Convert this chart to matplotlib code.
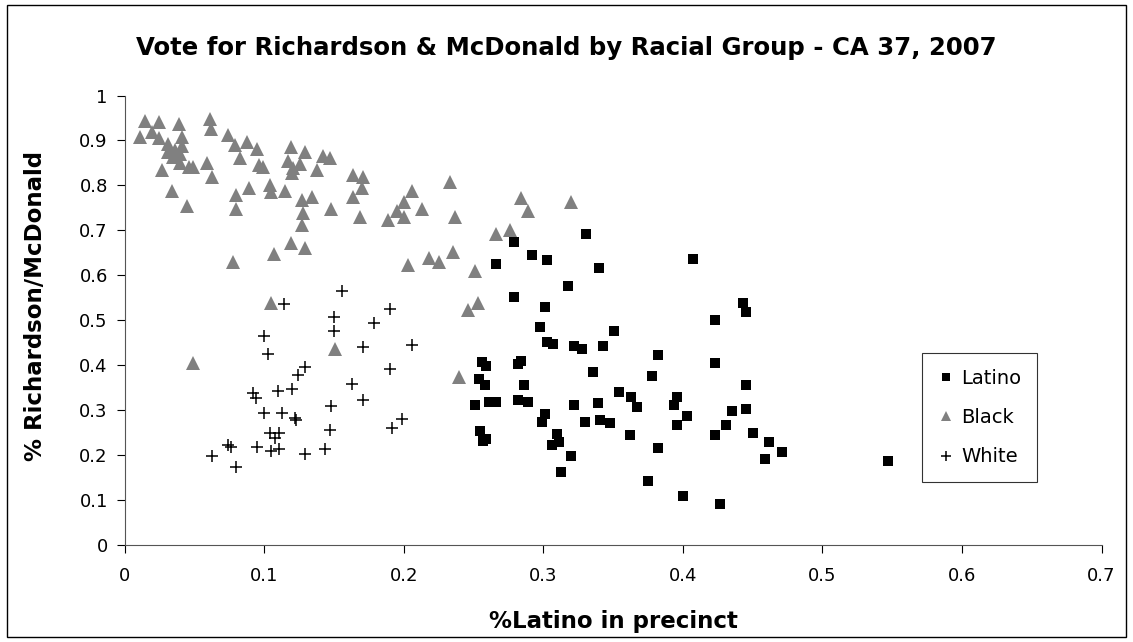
import matplotlib
matplotlib.use("Agg")
import matplotlib.pyplot as plt
from matplotlib.ticker import FuncFormatter, MultipleLocator
from matplotlib.patches import Rectangle

plt.rcParams['font.family'] = ['DejaVu Sans']

# Latino precincts (squares)
latino_x = [0.266, 0.292, 0.303, 0.340, 0.318, 0.279, 0.301, 0.298, 0.351, 0.303,
            0.307, 0.322, 0.328, 0.343, 0.382, 0.256, 0.259, 0.284, 0.282, 0.336,
            0.378, 0.254, 0.258, 0.286, 0.354, 0.363, 0.367, 0.251, 0.261, 0.266,
            0.282, 0.289, 0.322, 0.339, 0.301, 0.299, 0.330, 0.341, 0.348, 0.362,
            0.255, 0.259, 0.257, 0.310, 0.311, 0.306, 0.382, 0.320, 0.313, 0.375,
            0.407, 0.443, 0.445, 0.423, 0.423, 0.445, 0.396, 0.394, 0.403, 0.396,
            0.435, 0.445, 0.431, 0.423, 0.450, 0.462, 0.471, 0.459, 0.547, 0.400,
            0.427, 0.331, 0.279]
latino_y = [0.625, 0.645, 0.633, 0.617, 0.576, 0.551, 0.530, 0.484, 0.477, 0.452,
            0.447, 0.443, 0.435, 0.443, 0.423, 0.408, 0.398, 0.410, 0.402, 0.386,
            0.377, 0.369, 0.356, 0.356, 0.340, 0.329, 0.308, 0.312, 0.319, 0.319,
            0.323, 0.319, 0.312, 0.315, 0.291, 0.274, 0.274, 0.278, 0.271, 0.245,
            0.254, 0.236, 0.232, 0.247, 0.229, 0.223, 0.215, 0.199, 0.163, 0.142,
            0.636, 0.539, 0.518, 0.501, 0.406, 0.356, 0.330, 0.312, 0.287, 0.266,
            0.299, 0.303, 0.266, 0.245, 0.250, 0.229, 0.208, 0.191, 0.187, 0.109,
            0.091, 0.691, 0.675]

# Black precincts (triangles)
black_x = [0.011, 0.015, 0.025, 0.020, 0.025, 0.039, 0.041, 0.031, 0.031, 0.036,
           0.041, 0.035, 0.040, 0.040, 0.046, 0.049, 0.027, 0.034, 0.045, 0.059,
           0.063, 0.061, 0.062, 0.074, 0.079, 0.088, 0.095, 0.083, 0.096, 0.099,
           0.089, 0.080, 0.080, 0.104, 0.105, 0.115, 0.119, 0.129, 0.117, 0.126,
           0.121, 0.120, 0.138, 0.142, 0.147, 0.127, 0.134, 0.128, 0.127, 0.148,
           0.164, 0.171, 0.170, 0.164, 0.169, 0.119, 0.129, 0.107, 0.078, 0.105,
           0.233, 0.206, 0.200, 0.195, 0.189, 0.200, 0.213, 0.237, 0.203, 0.218,
           0.225, 0.235, 0.251, 0.253, 0.246, 0.284, 0.289, 0.266, 0.276, 0.320,
           0.151, 0.049, 0.240]
black_y = [0.907, 0.944, 0.940, 0.918, 0.906, 0.937, 0.907, 0.892, 0.875, 0.879,
           0.888, 0.864, 0.871, 0.849, 0.842, 0.840, 0.834, 0.788, 0.754, 0.849,
           0.819, 0.948, 0.925, 0.912, 0.890, 0.896, 0.882, 0.860, 0.845, 0.840,
           0.795, 0.779, 0.747, 0.801, 0.786, 0.788, 0.886, 0.875, 0.854, 0.848,
           0.838, 0.827, 0.834, 0.866, 0.862, 0.768, 0.775, 0.738, 0.712, 0.747,
           0.823, 0.819, 0.795, 0.775, 0.730, 0.673, 0.660, 0.647, 0.630, 0.538,
           0.808, 0.788, 0.764, 0.743, 0.722, 0.729, 0.747, 0.729, 0.623, 0.639,
           0.630, 0.651, 0.610, 0.539, 0.523, 0.771, 0.743, 0.692, 0.701, 0.764,
           0.436, 0.404, 0.374]

# White precincts (crosses)
white_x = [0.156, 0.114, 0.150, 0.150, 0.190, 0.179, 0.100, 0.103, 0.171, 0.206,
           0.129, 0.124, 0.190, 0.163, 0.110, 0.120, 0.092, 0.094, 0.171, 0.148,
           0.100, 0.113, 0.122, 0.123, 0.199, 0.192, 0.147, 0.104, 0.111, 0.108,
           0.074, 0.076, 0.095, 0.105, 0.111, 0.129, 0.144, 0.063, 0.080]
white_y = [0.565, 0.536, 0.508, 0.475, 0.524, 0.495, 0.466, 0.425, 0.441, 0.445,
           0.397, 0.378, 0.392, 0.358, 0.343, 0.347, 0.339, 0.326, 0.323, 0.309,
           0.293, 0.293, 0.283, 0.278, 0.280, 0.260, 0.256, 0.249, 0.249, 0.237,
           0.223, 0.219, 0.219, 0.210, 0.214, 0.202, 0.214, 0.198, 0.173]

fig = plt.figure(figsize=(11.33, 6.42), dpi=100)
ax = fig.add_axes([0.1099, 0.1511, 0.8623, 0.7001])

ax.plot(latino_x, latino_y, 's', color='black', ms=7.8, mew=0, label='Latino')
ax.plot(black_x, black_y, '^', color='#808080', ms=9.8, mew=0, label='Black')
ax.plot(white_x, white_y, '+', color='black', ms=9, mew=1.1, label='White')

ax.set_xlim(0, 0.7)
ax.set_ylim(0, 1)
ax.xaxis.set_major_locator(MultipleLocator(0.1))
ax.yaxis.set_major_locator(MultipleLocator(0.1))
fmt = FuncFormatter(lambda v, p: '%g' % round(v, 2))
ax.xaxis.set_major_formatter(fmt)
ax.yaxis.set_major_formatter(fmt)
ax.tick_params(direction='out', length=6, width=0.8, labelsize=13, pad=6)
ax.tick_params(axis='x', pad=10)
ax.spines['top'].set_visible(False)
ax.spines['right'].set_visible(False)
ax.spines['left'].set_color('#555555')
ax.spines['bottom'].set_color('#555555')

ax.set_xlabel('%Latino in precinct', fontsize=16.5, fontweight='bold', labelpad=18)
ax.set_ylabel('% Richardson/McDonald', fontsize=16.5, fontweight='bold')
ax.yaxis.set_label_coords(-0.079, 0.532)
fig.text(0.5, 0.925, 'Vote for Richardson & McDonald by Racial Group - CA 37, 2007',
         ha='center', va='center', fontsize=17.6, fontweight='bold')

leg = ax.legend(loc='center', bbox_to_anchor=(0.8645, 0.3497), bbox_transform=fig.transFigure,
                fontsize=14, frameon=True, fancybox=False, markerscale=0.75,
                handlelength=0.8, handletextpad=0.4, labelspacing=1.05, borderpad=0.8)
leg.get_frame().set_edgecolor('black')
leg.get_frame().set_linewidth(0.8)

fig.patches.append(Rectangle((0.006, 0.008), 0.988, 0.984, transform=fig.transFigure,
                             fill=False, edgecolor='black', linewidth=1))

plt.savefig('out.png', dpi=100)
